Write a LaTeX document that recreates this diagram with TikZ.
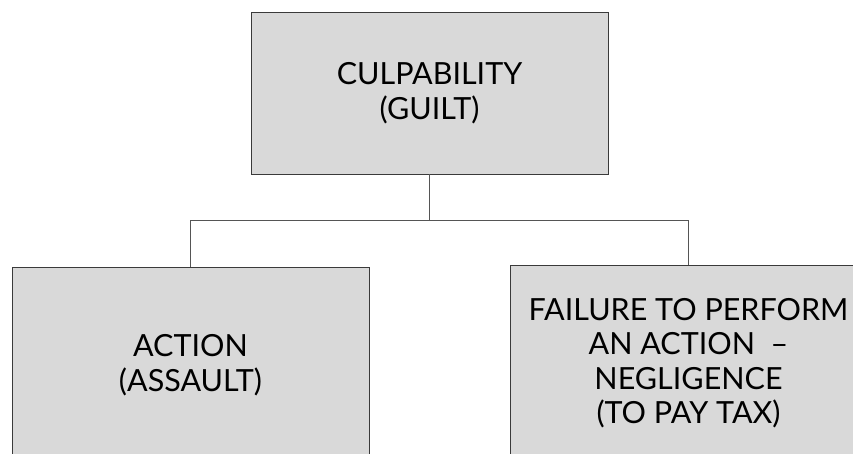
\documentclass[tikz,border=0pt]{standalone}
\usepackage{fontspec}
\setmainfont{Lato}
\definecolor{boxfill}{HTML}{D9D9D9}
\definecolor{boxline}{HTML}{3A3A3A}
\definecolor{conn}{HTML}{555555}
\begin{document}
\begin{tikzpicture}[x=1pt,y=-1pt,
  box/.style={draw=boxline, fill=boxfill, line width=0.9pt, minimum width=357pt,
    inner sep=0pt, align=center, text=black,
    font=\fontsize{30.5}{34.5}\selectfont},
  link/.style={draw=conn, line width=0.9pt}]
\useasboundingbox (0,0) rectangle (853,454);
\begin{scope}
\clip (0,0) rectangle (853,454);
\node[box, minimum height=162pt] (top) at (429.5,93) {CULPABILITY\\(GUILT)};
\node[box, minimum height=196pt] (left) at (190.5,365) {ACTION\\(ASSAULT)};
\node[box, minimum height=196pt] (right) at (688.5,363) {FAILURE TO PERFORM\\AN ACTION\ \ –\\NEGLIGENCE\\(TO PAY TAX)};
\coordinate (bus) at (429.5,220);
\draw[link] (top.south) -- (bus);
\draw[link] (left.north) |- (bus);
\draw[link] (right.north) |- (bus);
\end{scope}
\end{tikzpicture}
\end{document}
